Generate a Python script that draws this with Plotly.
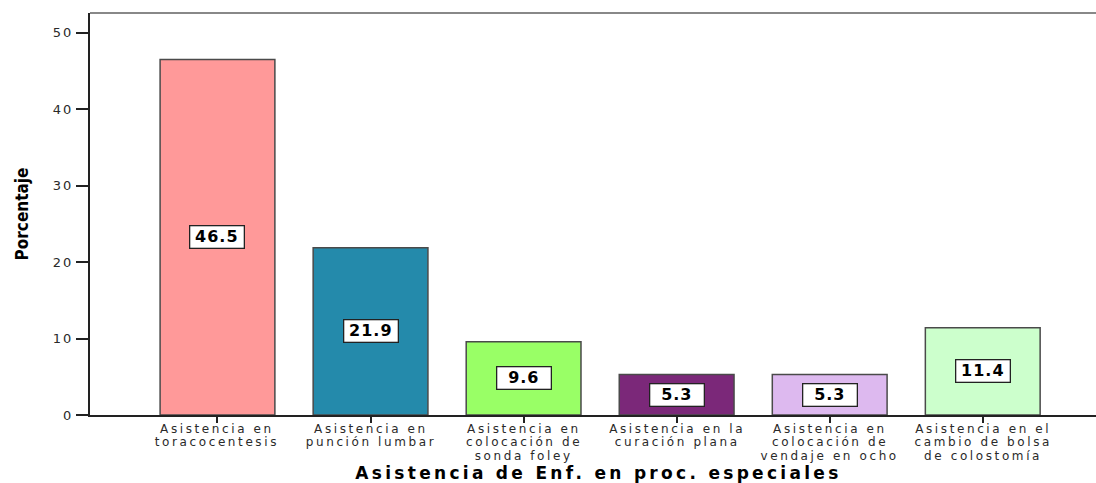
import plotly.graph_objects as go

categories = [
    "Asistencia en toracocentesis",
    "Asistencia en punción lumbar",
    "Asistencia en colocación de sonda foley",
    "Asistencia en la curación plana",
    "Asistencia en colocación de vendaje en ocho",
    "Asistencia en el cambio de bolsa de colostomía",
]
tick_label_lines = [
    ["Asistencia en", "toracocentesis"],
    ["Asistencia en", "punción lumbar"],
    ["Asistencia en", "colocación de", "sonda foley"],
    ["Asistencia en la", "curación plana"],
    ["Asistencia en", "colocación de", "vendaje en ocho"],
    ["Asistencia en el", "cambio de bolsa", "de colostomía"],
]
values = [46.5, 21.9, 9.6, 5.3, 5.3, 11.4]
value_labels = ["46.5", "21.9", "9.6", "5.3", "5.3", "11.4"]
y_ticks = [0, 10, 20, 30, 40, 50]

bar_colors = ["#FF9999", "#248AAB", "#99FF66", "#7B2879", "#DDB9EF", "#CCFFCC"]

fig = go.Figure()
fig.add_trace(go.Bar(
    x=categories,
    y=values,
    width=0.75,
    marker=dict(color=bar_colors, line=dict(color="#4a4a4a", width=1.5)),
    hoverinfo="skip",
))

# value labels (annotation indices 0..5)
for c, v, t in zip(categories, values, value_labels):
    fig.add_annotation(
        x=c, y=v / 2, text="<b>" + t + "</b>", showarrow=False,
        font=dict(family="DejaVu Sans", size=16, color="black"),
        bgcolor="white", bordercolor="#222", borderwidth=1.3, borderpad=1,
        width=51, height=19, align="center", valign="middle",
    )

# category labels, one annotation per line for tight line spacing
for c, lines in zip(categories, tick_label_lines):
    for j, line in enumerate(lines):
        fig.add_annotation(
            x=c, y=0, xref="x", yref="y", text=line, showarrow=False,
            font=dict(family="DejaVu Sans", size=12, color="#2a2a2a"),
            xanchor="center", yanchor="middle", yshift=-(13.5 + 13.5 * j),
            borderpad=0,
        )

fig.add_shape(type="line", xref="paper", yref="paper", x0=0, x1=1, y0=1, y1=1,
              line=dict(color="#888888", width=2))

fig.update_layout(
    width=1096, height=483,
    margin=dict(l=90, r=0, t=13, b=68),
    plot_bgcolor="white", paper_bgcolor="white",
    showlegend=False,
    bargap=0.25,
    font=dict(family="DejaVu Sans", color="#333333"),
    xaxis=dict(
        type="category",
        range=[-0.833, 5.74],
        tickvals=categories,
        showticklabels=False,
        showline=True, linecolor="#222222", linewidth=1.5,
        ticks="outside", ticklen=6, tickcolor="#222222", tickwidth=1.5,
        showgrid=False, zeroline=False,
        automargin=False,
    ),
    yaxis=dict(
        range=[0, 52.6],
        tickvals=y_ticks,
        tickfont=dict(family="DejaVu Sans", size=13, color="#2a2a2a"),
        showline=True, linecolor="#222222", linewidth=2,
        ticks="outside", ticklen=12, tickcolor="#222222", tickwidth=1.5,
        showgrid=False, zeroline=False,
        title=dict(text="<b>Porcentaje</b>",
                   font=dict(family="Liberation Sans Narrow, DejaVu Sans Condensed, Arial Narrow, sans-serif",
                             size=17, color="black"),
                   standoff=24),
        automargin=False,
    ),
    annotations=list(fig.layout.annotations) + [
        dict(text="<b>Asistencia de Enf. en proc. especiales</b>", xref="paper", yref="paper",
             x=0.505, y=0, yanchor="middle", yshift=-58, showarrow=False,
             font=dict(family="DejaVu Sans", size=17, color="black")),
    ],
)

post = """
var gd = document.getElementById('{plot_id}');
function spacing(){
  gd.querySelectorAll('.ytick text').forEach(function(e){e.style.letterSpacing='2px';});
  gd.querySelectorAll('.annotation').forEach(function(a){
    var i = parseInt(a.getAttribute('data-index'));
    var t = a.querySelector('.annotation-text');
    if(!t) return;
    if(i < 6){ t.style.letterSpacing='1px'; }
    else if(i < 21){ t.style.letterSpacing='2.6px'; }
    else { t.style.letterSpacing='3.3px'; }
  });
}
spacing();
gd.on('plotly_afterplot', spacing);
"""

fig.write_html("out.html", post_script=post)
